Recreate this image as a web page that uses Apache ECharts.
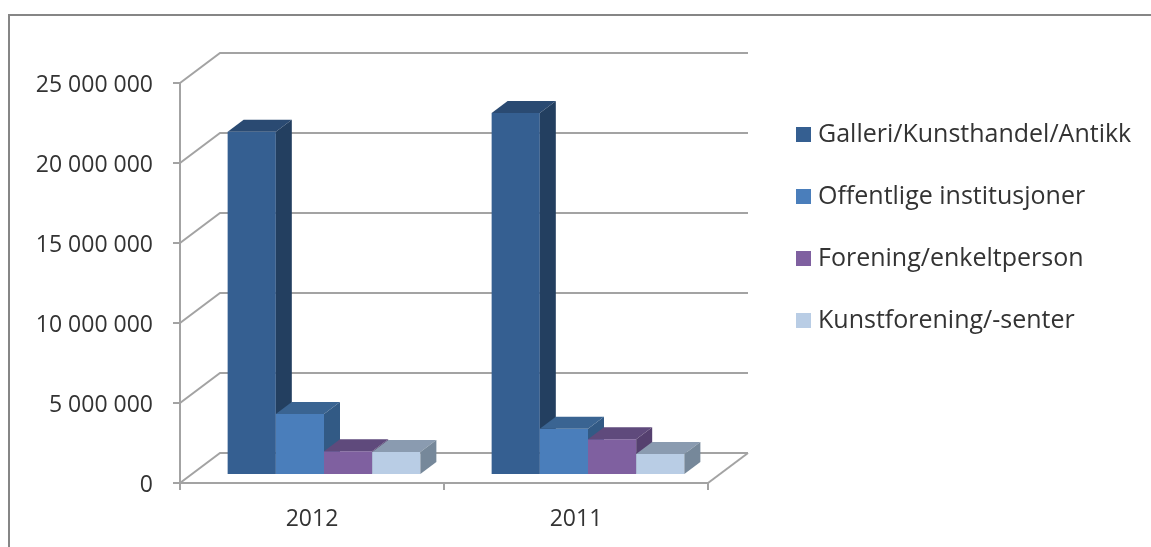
<!DOCTYPE html>
<html>
<head>
<meta charset="utf-8">
<title>Chart</title>
<script src="https://cdn.jsdelivr.net/npm/echarts@6/dist/echarts.min.js"></script>
<style>
    html, body { margin: 0; padding: 0; background: #fff; }
    #chart { width: 1151px; height: 547px; }
</style>
</head>
<body>
<div id="chart"></div>
<script>
    var categories = ['2012', '2011'];
    var seriesNames = ['Galleri/Kunsthandel/Antikk', 'Offentlige institusjoner', 'Forening/enkeltperson', 'Kunstforening/-senter'];
    var galleri = [21390000, 22560000];
    var offentlige = [3750000, 2830000];
    var forening = [1420000, 2170000];
    var kunstforening = [1370000, 1250000];
    var yTicks = [0, 5000000, 10000000, 15000000, 20000000, 25000000];

    // front, top, side
    var frontColors = ['#355f91', '#4a7ebb', '#7f60a0', '#b9cde5'];
    var topColors = ['#2a4a72', '#3a6492', '#5f4a7c', '#8a9bb0'];
    var sideColors = ['#233f60', '#325a85', '#55406f', '#76889a'];
    var lineColor = '#a3a3a3';

    // 3d look: floor depth of the wall, and where the bars stand on it
    var wallDx = 40, wallDy = -30;
    var standDx = 12, standDy = -9;
    var depthDx = 16, depthDy = -12;

    function poly(points, color) {
        return { type: 'polygon', shape: { points: points }, style: { fill: color } };
    }

    function renderWall(params, api) {
        var rect = params.coordSys;
        var y = api.coord([0, api.value(0)])[1];
        var x0 = rect.x, x1 = rect.x + rect.width;
        var children = [{
            type: 'polyline',
            shape: { points: [[x0, y], [x0 + wallDx, y + wallDy], [x1 + wallDx, y + wallDy]] },
            style: { stroke: lineColor, lineWidth: 2, fill: null }
        }];
        if (api.value(0) === 0) {
            children.push({
                type: 'line',
                shape: { x1: x1, y1: y, x2: x1 + wallDx, y2: y + wallDy },
                style: { stroke: lineColor, lineWidth: 2 }
            });
        }
        return { type: 'group', children: children };
    }

    function makeBarRender(n) {
        return function (params, api) {
            var bandWidth = api.size([1, 0])[0];
            var w = bandWidth * 0.1825;
            var center = api.coord([api.value(0), 0]);
            var left = center[0] + (n - 2) * w + standDx;
            var right = left + w;
            var bottom = center[1] + standDy;
            var top = api.coord([api.value(0), api.value(1)])[1] + standDy;
            return {
                type: 'group',
                children: [
                    poly([[left, bottom], [right, bottom], [right, top], [left, top]], frontColors[n]),
                    poly([[left, top], [right, top], [right + depthDx, top + depthDy], [left + depthDx, top + depthDy]], topColors[n]),
                    poly([[right, bottom], [right + depthDx, bottom + depthDy], [right + depthDx, top + depthDy], [right, top]], sideColors[n])
                ]
            };
        };
    }

    function barSeries(n, values) {
        return {
            name: seriesNames[n],
            type: 'custom',
            renderItem: makeBarRender(n),
            itemStyle: { color: frontColors[n] },
            encode: { x: 0, y: 1 },
            data: values.map(function (v, i) { return [i, v]; }),
            z: 3 + n
        };
    }

    var chart = echarts.init(document.getElementById('chart'));
    chart.setOption({
        backgroundColor: '#ffffff',
        animation: false,
        textStyle: { fontFamily: 'Open Sans' },
        grid: { left: 180, top: 83, width: 528, height: 400, containLabel: false },
        legend: {
            orient: 'vertical',
            left: 791,
            top: 117,
            itemWidth: 15,
            itemHeight: 15,
            itemGap: 37,
            icon: 'rect',
            data: seriesNames,
            textStyle: { fontSize: 25, color: '#333333', fontFamily: 'Open Sans', padding: [0, 0, 0, 2] }
        },
        xAxis: {
            type: 'category',
            data: categories,
            axisLine: { lineStyle: { color: lineColor, width: 2 } },
            axisTick: { show: true, length: 7, lineStyle: { color: lineColor, width: 2 } },
            axisLabel: { fontSize: 23, color: '#333333', margin: 25 },
            splitLine: { show: false }
        },
        yAxis: {
            type: 'value',
            min: 0,
            max: 25000000,
            interval: 5000000,
            axisLine: { show: true, lineStyle: { color: lineColor, width: 2 } },
            axisTick: { show: true, length: 7, lineStyle: { color: lineColor, width: 2 } },
            axisLabel: {
                margin: 27,
                // rich box so the numbers can sit a little under the tick
                rich: { n: { fontSize: 23, color: '#333333', fontFamily: 'Open Sans', padding: [5, 0, 0, 0] } },
                formatter: function (v) { return '{n|' + String(v).replace(/\B(?=(\d{3})+$)/g, ' ') + '}'; }
            },
            splitLine: { show: false }
        },
        graphic: [{
            type: 'polyline',
            shape: { points: [[1151, 15], [9, 15], [9, 547]] },
            style: { stroke: '#868686', lineWidth: 2, fill: null }
        }],
        series: [
            {
                type: 'custom',
                renderItem: renderWall,
                silent: true,
                encode: { y: 0 },
                data: yTicks.map(function (v) { return [v]; }),
                z: 1
            },
            barSeries(0, galleri),
            barSeries(1, offentlige),
            barSeries(2, forening),
            barSeries(3, kunstforening)
        ]
    });
</script>
</body>
</html>
